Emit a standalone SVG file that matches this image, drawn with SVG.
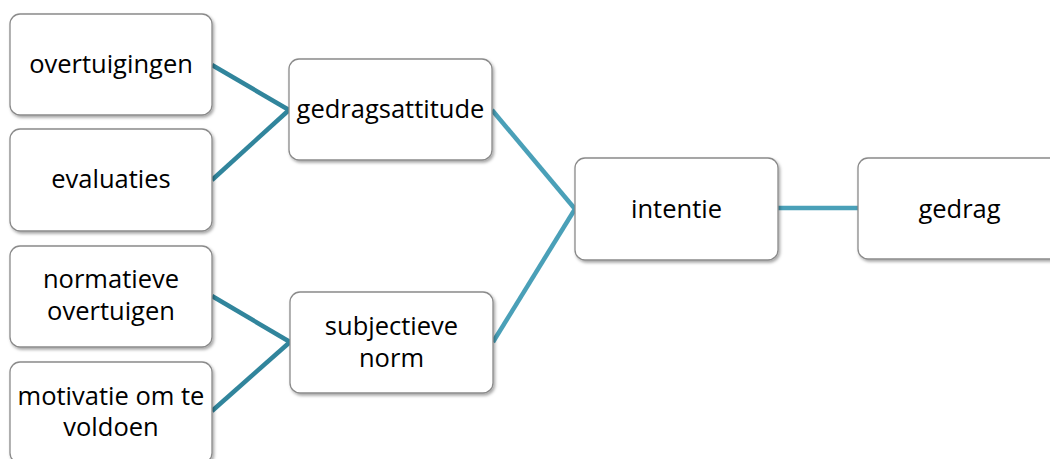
<svg xmlns="http://www.w3.org/2000/svg" width="1050" height="459" viewBox="0 0 1050 459">
<style>
.box{fill:#ffffff;stroke:#8a8a8a;stroke-width:1.3;filter:url(#sh)}
.t{font-family:"Open Sans","Noto Sans","Liberation Sans",sans-serif;font-size:25.5px;fill:#000;text-anchor:middle}
.c1{stroke:#31859c;stroke-width:4.5;fill:none}
.c2{stroke:#4aa0b8;stroke-width:4.5;fill:none}
</style>
<defs>
<filter id="sh" x="-10%" y="-10%" width="125%" height="130%">
<feDropShadow dx="1.5" dy="2" stdDeviation="1.5" flood-color="#000" flood-opacity="0.35"/>
</filter>
</defs>
<rect width="1050" height="459" fill="#ffffff"/>
<g id="connectors">
<line class="c1" x1="212" y1="65" x2="289" y2="110"/>
<line class="c1" x1="212" y1="180" x2="289" y2="110"/>
<line class="c1" x1="212" y1="296" x2="290" y2="342"/>
<line class="c1" x1="212" y1="411" x2="290" y2="342"/>
<line class="c2" x1="492" y1="110" x2="575" y2="209"/>
<line class="c2" x1="493" y1="342" x2="575" y2="209"/>
<line class="c2" x1="778" y1="208" x2="858" y2="208"/>
</g>
<g id="overtuigingen">
<rect class="box" x="10" y="14" width="202" height="101" rx="10"/>
<text class="t" x="111" y="73">overtuigingen</text>
</g>
<g id="evaluaties">
<rect class="box" x="10" y="129" width="202" height="102" rx="10"/>
<text class="t" x="111" y="188">evaluaties</text>
</g>
<g id="normatieve">
<rect class="box" x="10" y="246" width="202" height="101" rx="10"/>
<text class="t" x="111" y="288">normatieve</text>
<text class="t" x="111" y="320">overtuigen</text>
</g>
<g id="motivatie">
<rect class="box" x="10" y="362" width="202" height="101" rx="10"/>
<text class="t" x="111" y="405">motivatie om te</text>
<text class="t" x="111" y="436">voldoen</text>
</g>
<g id="gedragsattitude">
<rect class="box" x="289" y="59" width="203" height="101" rx="10"/>
<text class="t" x="390.5" y="118">gedragsattitude</text>
</g>
<g id="subjectieve">
<rect class="box" x="290" y="292" width="203" height="101" rx="10"/>
<text class="t" x="391.5" y="335">subjectieve</text>
<text class="t" x="391.5" y="367">norm</text>
</g>
<g id="intentie">
<rect class="box" x="575" y="158" width="203" height="102" rx="10"/>
<text class="t" x="676.5" y="218">intentie</text>
</g>
<g id="gedrag">
<rect class="box" x="858" y="158" width="203" height="101" rx="10"/>
<text class="t" x="959.5" y="218">gedrag</text>
</g>
</svg>
